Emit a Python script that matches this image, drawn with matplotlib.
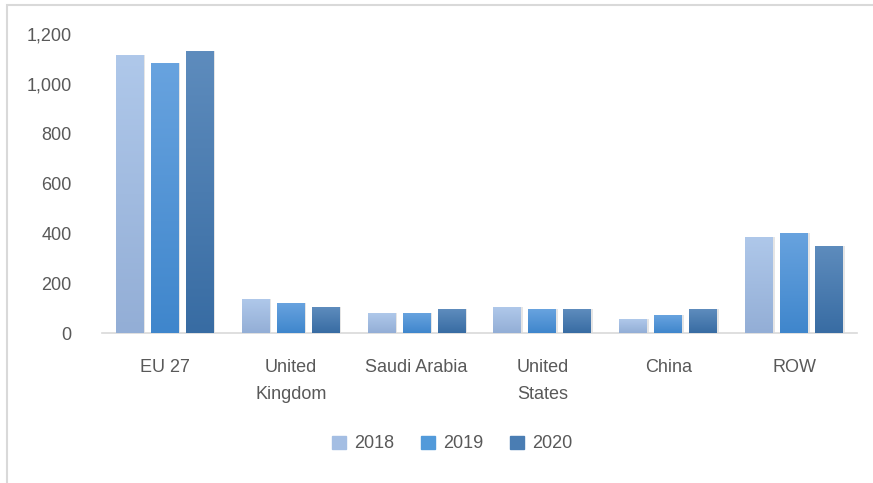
import matplotlib
matplotlib.use("Agg")
import matplotlib.pyplot as plt
import numpy as np
from matplotlib.colors import LinearSegmentedColormap
from matplotlib.patches import Rectangle

categories = ["EU 27", "United\nKingdom", "Saudi Arabia", "United\nStates", "China", "ROW"]
years = ["2018", "2019", "2020"]
values_2018 = [1115, 135, 80, 104, 56, 386]
values_2019 = [1083, 120, 80, 96, 72, 402]
values_2020 = [1131, 104, 96, 96, 96, 350]
yticks = [0, 200, 400, 600, 800, 1000, 1200]

series = [values_2018, values_2019, values_2020]
top_colors = ["#afc8ea", "#68a3df", "#5e8cbd"]
bot_colors = ["#93aed6", "#3f86cc", "#386ca3"]
mid_colors = ["#a4bee3", "#529ada", "#4a7db3"]

plt.rcParams['font.family'] = ['Liberation Sans', 'DejaVu Sans']

W, H = 873, 483
fig = plt.figure(figsize=(W/100, H/100), dpi=100)
ax = fig.add_axes([102/W, 1-333/H, (857-102)/W, (333-34)/H])

x = np.arange(len(categories))
width = 0.222
offsets = [-0.278, 0.0, 0.278]
grad = np.linspace(1, 0, 256).reshape(-1, 1)
for i, vals in enumerate(series):
    bars = ax.bar(x + offsets[i], vals, width, color=mid_colors[i], label=years[i],
                  zorder=3, linewidth=0)
    cmap = LinearSegmentedColormap.from_list(f"g{i}", [bot_colors[i], top_colors[i]])
    for b in bars:
        bx, by = b.get_x(), b.get_y()
        bw, bh = b.get_width(), b.get_height()
        # soft shadow
        ax.add_patch(Rectangle((bx + 0.012, by), bw, bh, color="#000000", alpha=0.10,
                               zorder=2, linewidth=0))
        im = ax.imshow(grad, extent=[bx, bx + bw, by, by + bh], aspect="auto",
                       cmap=cmap, vmin=0, vmax=1, zorder=3.5)
        im.set_clip_path(b)

ax.set_xlim(-0.5, len(categories) - 0.5)
ax.set_ylim(0, 1200)
ax.set_yticks(yticks)
ax.set_yticklabels([f"{v:,}" for v in yticks])
ax.set_xticks(x)
ax.set_xticklabels(categories, linespacing=1.75)
ax.tick_params(axis="both", length=0, colors="#595959", labelsize=13)
ax.tick_params(axis="y", pad=22)
ax.tick_params(axis="x", pad=19)
for s in ["top", "right", "left"]:
    ax.spines[s].set_visible(False)
ax.spines["bottom"].set_color("#d9d9d9")
ax.spines["bottom"].set_linewidth(1.2)

handles = [Rectangle((0, 0), 1, 1, color=mid_colors[i]) for i in range(3)]
leg = fig.legend(handles, years, loc="center", bbox_to_anchor=(452/W, 1-444/H), ncol=3,
                 frameon=False, fontsize=13, handlelength=0.75, handleheight=0.75,
                 handletextpad=0.45, columnspacing=1.5, labelcolor="#595959")

# chart frame (partially cropped)
fig.patches.append(Rectangle((7/W, -0.1), 1.2, 1 - 5/H + 0.1, transform=fig.transFigure,
                             fill=False, edgecolor="#d9d9d9", linewidth=1.5))

fig.savefig("out.png", dpi=100)
